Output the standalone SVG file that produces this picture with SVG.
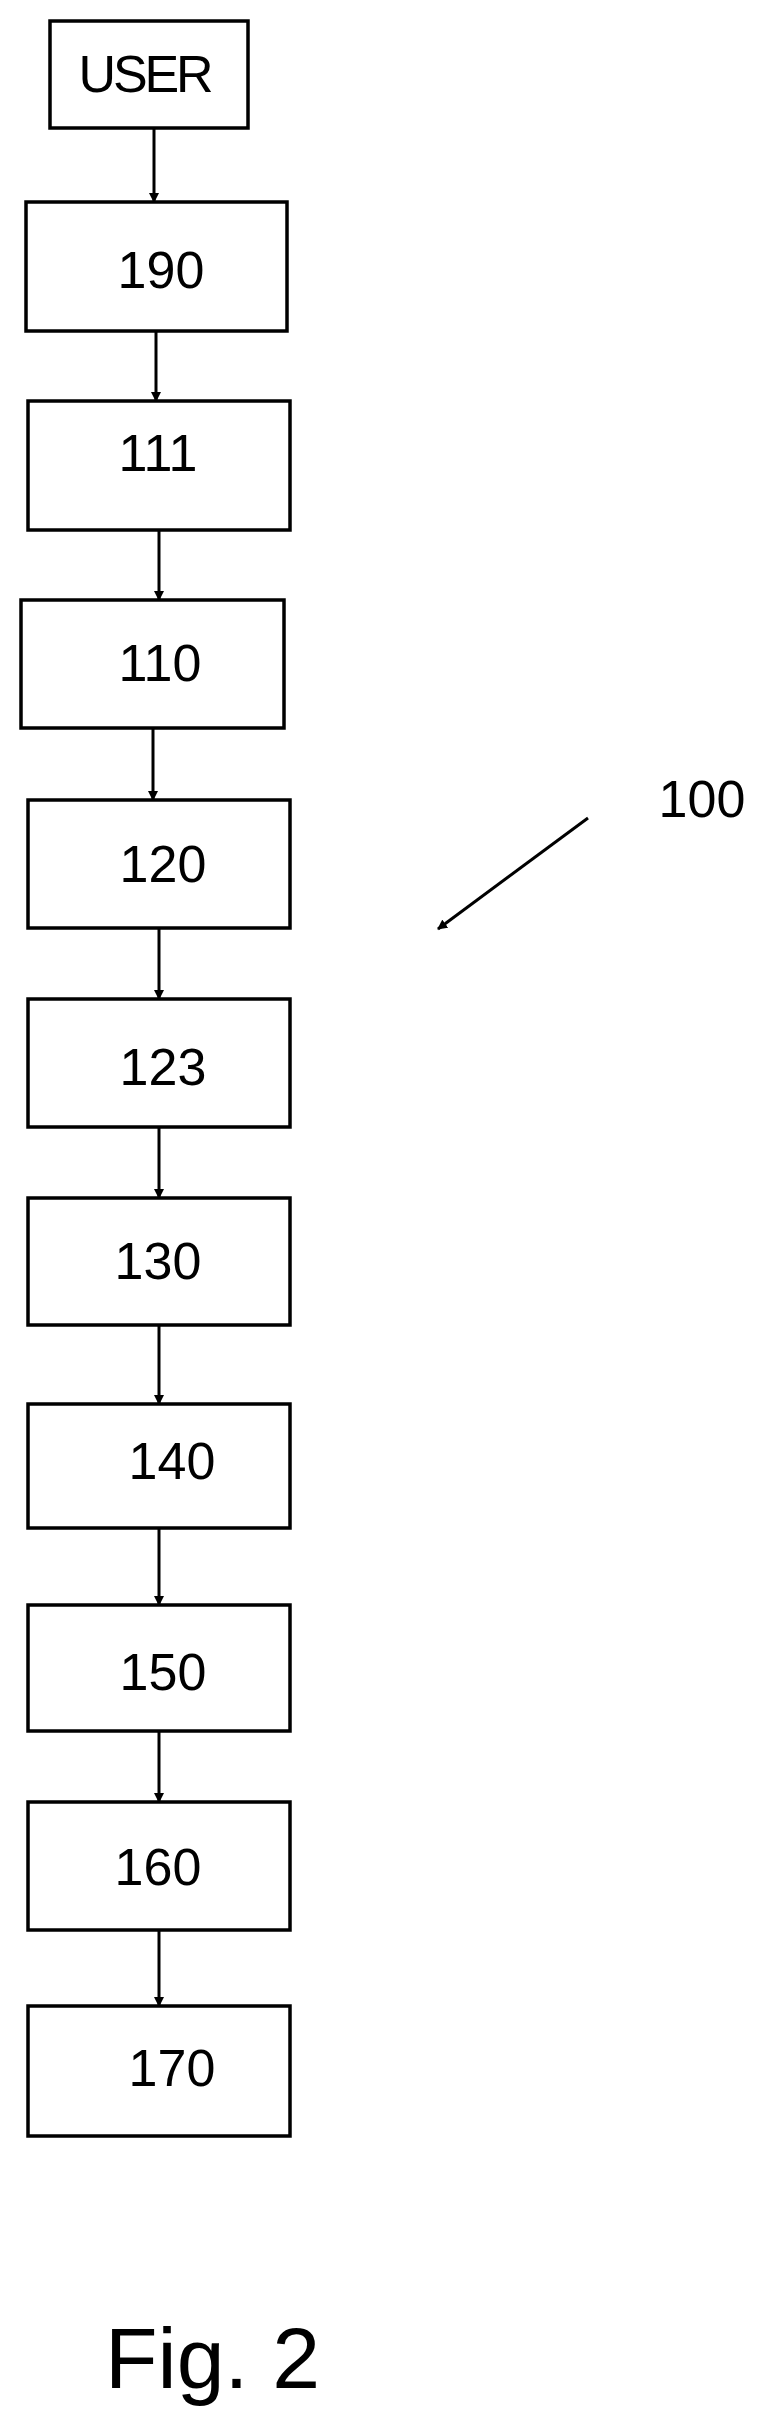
<svg xmlns="http://www.w3.org/2000/svg" width="764" height="2426" viewBox="0 0 764 2426">
<style>
.b{fill:#fff;stroke:#000;stroke-width:3.5}
.t{font-family:"Liberation Sans",Arial,sans-serif;font-size:52px;fill:#000;text-anchor:middle}
.c{stroke:#000;stroke-width:3;fill:none;marker-end:url(#a)}
</style>
<defs><marker id="a" markerWidth="10" markerHeight="10" refX="9" refY="5" orient="auto" markerUnits="userSpaceOnUse"><path d="M0,0L10,5L0,10z" fill="#000"/></marker></defs>
<rect width="764" height="2426" fill="#fff"/>
<g id="n-user"><rect class="b" x="50" y="21" width="198" height="107"/><text class="t" x="146" y="92" textLength="135">USER</text></g>
<g id="n190"><rect class="b" x="26" y="202" width="261" height="129"/><text class="t" x="161" y="288">190</text></g>
<g id="n111"><rect class="b" x="28" y="401" width="262" height="129"/><text class="t" x="158" y="471">111</text></g>
<g id="n110"><rect class="b" x="21" y="600" width="263" height="128"/><text class="t" x="160" y="681">110</text></g>
<g id="n120"><rect class="b" x="28" y="800" width="262" height="128"/><text class="t" x="163" y="882">120</text></g>
<g id="n123"><rect class="b" x="28" y="999" width="262" height="128"/><text class="t" x="163" y="1085">123</text></g>
<g id="n130"><rect class="b" x="28" y="1198" width="262" height="127"/><text class="t" x="158" y="1279">130</text></g>
<g id="n140"><rect class="b" x="28" y="1404" width="262" height="124"/><text class="t" x="172" y="1479">140</text></g>
<g id="n150"><rect class="b" x="28" y="1605" width="262" height="126"/><text class="t" x="163" y="1690">150</text></g>
<g id="n160"><rect class="b" x="28" y="1802" width="262" height="128"/><text class="t" x="158" y="1885">160</text></g>
<g id="n170"><rect class="b" x="28" y="2006" width="262" height="130"/><text class="t" x="172" y="2086">170</text></g>
<g id="n100"><text class="t" x="702" y="817">100</text></g>
<g id="connectors">
<path class="c" d="M154,128V202"/>
<path class="c" d="M156,331V401"/>
<path class="c" d="M159,530V600"/>
<path class="c" d="M153,728V800"/>
<path class="c" d="M159,928V999"/>
<path class="c" d="M159,1127V1198"/>
<path class="c" d="M159,1325V1404"/>
<path class="c" d="M159,1528V1605"/>
<path class="c" d="M159,1731V1802"/>
<path class="c" d="M159,1930V2006"/>
<path class="c" d="M588,818L438,929"/>
</g>
<text x="105" y="2388" style="font-family:'Liberation Sans',Arial,sans-serif;font-size:86px">Fig. 2</text>
</svg>
